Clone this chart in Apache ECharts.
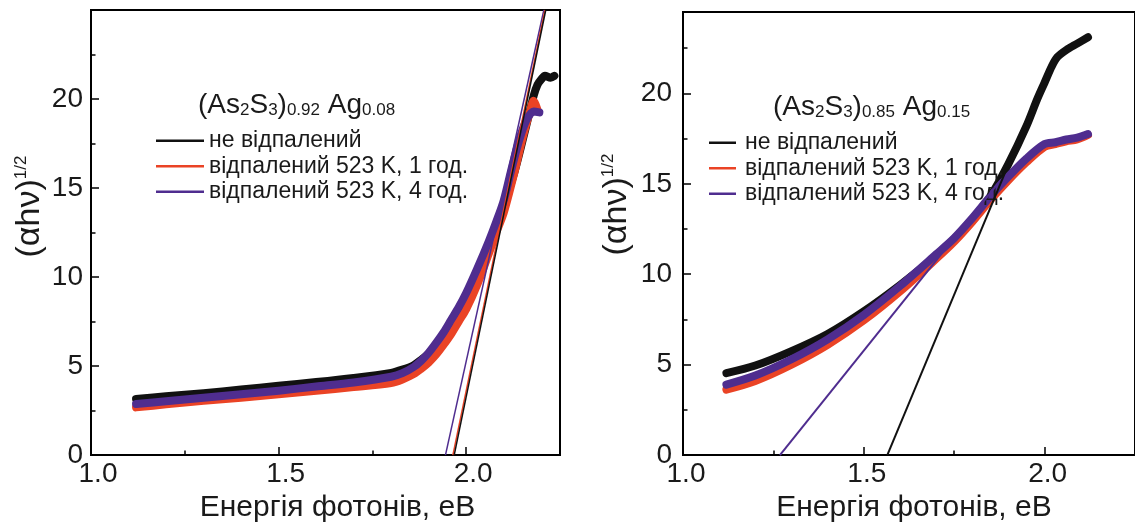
<!DOCTYPE html>
<html>
<head>
<meta charset="utf-8">
<script src="https://cdn.jsdelivr.net/npm/echarts@6/dist/echarts.min.js"></script>
<style>
  html, body { margin: 0; padding: 0; background: #ffffff; }
  #chart { width: 1135px; height: 528px; }
</style>
</head>
<body>
<div id="chart"></div>
<script>
// Legend entries and colours shared by both panels
const seriesNames = ['не відпалений', 'відпалений 523 K, 1 год.', 'відпалений 523 K, 4 год.'];
const seriesColors = ['#111111', '#ea4325', '#4f2d8f'];

// Tick labels
const energyTickLabels = ['1.0', '1.5', '2.0'];
const alphaTickLabels = ['0', '5', '10', '15', '20'];

// ---- Panel 1: (As2S3)0.92 Ag0.08 ----
const p1EnergyBlack = [1.12, 1.2, 1.3, 1.4, 1.5, 1.6, 1.7, 1.8, 1.83, 1.86, 1.88, 1.9, 1.92, 1.94, 1.96, 1.98, 2.0, 2.03, 2.06, 2.08, 2.1, 2.13, 2.16, 2.18, 2.19, 2.2, 2.21, 2.225, 2.235];
const p1AlphaBlack  = [3.15, 3.3, 3.48, 3.68, 3.9, 4.1, 4.33, 4.62, 4.8, 5.05, 5.35, 5.7, 6.2, 6.8, 7.5, 8.2, 8.9, 10.2, 11.8, 12.9, 14.0, 16.0, 18.5, 20.2, 20.8, 21.1, 21.3, 21.2, 21.3];

const p1EnergyRed = [1.12, 1.2, 1.3, 1.4, 1.5, 1.6, 1.7, 1.8, 1.83, 1.86, 1.88, 1.9, 1.92, 1.94, 1.96, 1.98, 2.0, 2.03, 2.06, 2.08, 2.1, 2.13, 2.15, 2.17, 2.18, 2.19];
const p1AlphaRed  = [2.68, 2.85, 3.05, 3.22, 3.42, 3.62, 3.82, 4.05, 4.25, 4.55, 4.85, 5.2, 5.65, 6.2, 6.8, 7.5, 8.2, 9.6, 11.3, 12.5, 13.6, 16.0, 17.8, 19.3, 19.9, 19.4];

const p1EnergyViolet = [1.12, 1.2, 1.3, 1.4, 1.5, 1.6, 1.7, 1.8, 1.83, 1.86, 1.88, 1.9, 1.92, 1.94, 1.96, 1.98, 2.0, 2.03, 2.06, 2.08, 2.1, 2.12, 2.14, 2.16, 2.18, 2.195];
const p1AlphaViolet  = [2.87, 3.02, 3.22, 3.42, 3.62, 3.85, 4.08, 4.4, 4.6, 4.95, 5.3, 5.75, 6.3, 6.9, 7.6, 8.3, 9.1, 10.5, 12.0, 13.1, 14.3, 16.0, 17.6, 18.8, 19.3, 19.25];

// Linear extrapolations to the energy axis
const p1FitEnergyBlack = [1.968, 2.212];
const p1FitAlphaBlack  = [0, 25];
const p1FitEnergyRed = [1.9645, 2.21];
const p1FitAlphaRed  = [0, 25];
const p1FitEnergyViolet = [1.9447, 2.207];
const p1FitAlphaViolet  = [0, 25];

// ---- Panel 2: (As2S3)0.85 Ag0.15 ----
const p2EnergyBlack = [1.12, 1.2, 1.3, 1.4, 1.5, 1.6, 1.7, 1.75, 1.8, 1.85, 1.9, 1.95, 1.98, 2.0, 2.02, 2.035, 2.06, 2.09, 2.12];
const p2AlphaBlack  = [4.53, 4.95, 5.75, 6.7, 7.95, 9.4, 11.0, 11.95, 12.95, 14.3, 16.1, 18.2, 19.7, 20.6, 21.5, 22.0, 22.4, 22.75, 23.1];

const p2EnergyRed = [1.12, 1.2, 1.3, 1.4, 1.5, 1.6, 1.7, 1.75, 1.8, 1.85, 1.9, 1.95, 2.0, 2.03, 2.06, 2.09, 2.12];
const p2AlphaRed  = [3.62, 4.1, 5.0, 6.1, 7.45, 9.05, 10.85, 11.8, 12.9, 14.1, 15.2, 16.2, 17.05, 17.2, 17.35, 17.45, 17.7];

const p2EnergyViolet = [1.12, 1.2, 1.3, 1.4, 1.5, 1.6, 1.7, 1.75, 1.8, 1.85, 1.9, 1.95, 2.0, 2.03, 2.06, 2.09, 2.12];
const p2AlphaViolet  = [3.9, 4.4, 5.3, 6.4, 7.75, 9.35, 11.1, 12.0, 13.1, 14.3, 15.4, 16.4, 17.2, 17.3, 17.45, 17.55, 17.75];

const p2FitEnergyViolet = [1.268, 1.88];
const p2FitAlphaViolet  = [0, 15.24];
const p2FitEnergyBlack = [1.565, 1.98];
const p2FitAlphaBlack  = [0, 19.9];

const FONT = "'Liberation Sans', Arial, sans-serif";
const TEXT = '#1a1a1a';

function pairs(xs, ys) { return xs.map((x, i) => [x, ys[i]]); }

function energyMajor(gridIndex, max, labelShift, nameShift, nameGap) {
  return {
    type: 'value', gridIndex, position: 'bottom', min: 1.0, max, interval: 0.5,
    axisLine: { onZero: false, lineStyle: { color: '#000', width: 2 } },
    axisTick: { inside: true, length: 8, lineStyle: { color: '#000', width: 1.5 } },
    axisLabel: {
      showMaxLabel: false, margin: 5, fontSize: 28, color: TEXT, fontFamily: FONT,
      padding: [0, 0, 0, labelShift * 2],
      formatter: v => energyTickLabels[Math.round((v - 1.0) / 0.5)] || ''
    },
    splitLine: { show: false },
    name: 'Енергія фотонів, еВ', nameLocation: 'middle', nameGap,
    nameTextStyle: { fontSize: 30, color: TEXT, fontFamily: FONT, padding: [0, 0, 0, nameShift * 2] }
  };
}
function energyMinor(gridIndex, max) {
  return {
    type: 'value', gridIndex, position: 'bottom', min: 1.0, max, interval: 0.25,
    axisLine: { show: false },
    axisTick: { inside: true, length: 4.5, lineStyle: { color: '#000', width: 1.5 } },
    axisLabel: { show: false }, splitLine: { show: false }
  };
}
function alphaMajor(gridIndex, max, labelMargin, nameGap, nameShift) {
  return {
    type: 'value', gridIndex, position: 'left', min: 0, max, interval: 5,
    axisLine: { onZero: false, lineStyle: { color: '#000', width: 2 } },
    axisTick: { inside: true, length: 8, lineStyle: { color: '#000', width: 1.5 } },
    axisLabel: {
      showMaxLabel: false, margin: labelMargin, fontSize: 28, color: TEXT, fontFamily: FONT,
      formatter: v => alphaTickLabels[Math.round(v / 5)] || ''
    },
    splitLine: { show: false },
    name: '{m|(αhν)}{s|1/2}', nameLocation: 'middle', nameRotate: 90, nameGap,
    nameTextStyle: {
      color: TEXT, fontFamily: FONT, padding: [0, 0, 0, nameShift * 2],
      rich: {
        m: { fontSize: 34, color: TEXT, fontFamily: FONT },
        s: { fontSize: 17, color: TEXT, fontFamily: FONT, verticalAlign: 'top' }
      }
    }
  };
}
function alphaMinor(gridIndex, max) {
  return {
    type: 'value', gridIndex, position: 'left', min: 0, max, interval: 2.5,
    axisLine: { show: false },
    axisTick: { inside: true, length: 4.5, lineStyle: { color: '#000', width: 1.5 } },
    axisLabel: { show: false }, splitLine: { show: false }
  };
}

function dataSeries(name, color, xAxisIndex, yAxisIndex, xs, ys) {
  return {
    type: 'line', name, xAxisIndex, yAxisIndex, data: pairs(xs, ys),
    symbol: 'none', smooth: 0.3, silent: true, z: 2,
    itemStyle: { color },
    lineStyle: { color, width: 8, cap: 'round', join: 'round' }
  };
}
function fitSeries(color, xAxisIndex, yAxisIndex, xs, ys, width) {
  return {
    type: 'line', xAxisIndex, yAxisIndex, data: pairs(xs, ys),
    symbol: 'none', silent: true, z: 5,
    lineStyle: { color, width }
  };
}

const compositionTitle = (a, b) =>
  `{m|(As}{s|2}{m|S}{s|3}{m|)}{s|${a}}{m| Ag}{s|${b}}`;
const titleRich = {
  m: { fontSize: 28, fontWeight: 'normal', color: TEXT, fontFamily: FONT },
  s: { fontSize: 17, fontWeight: 'normal', color: TEXT, fontFamily: FONT, verticalAlign: 'bottom', lineHeight: 12 }
};

const legendBase = {
  orient: 'vertical', icon: 'rect', itemHeight: 2.5, itemGap: 0, selectedMode: false,
  data: seriesNames,
  textStyle: { fontSize: 23, lineHeight: 25.5, color: TEXT, fontFamily: FONT }
};

const chart = echarts.init(document.getElementById('chart'), null, { renderer: 'canvas' });
chart.setOption({
  animation: false,
  backgroundColor: '#ffffff',
  grid: [
    { left: 91, top: 10, width: 469, height: 448, show: true, borderColor: '#000', borderWidth: 2, containLabel: false },
    { left: 683, top: 12, width: 477, height: 451, show: true, borderColor: '#000', borderWidth: 2, containLabel: false }
  ],
  title: [
    { text: compositionTitle('0.92', '0.08'), left: 193, top: 86, textStyle: { fontWeight: 'normal', rich: titleRich } },
    { text: compositionTitle('0.85', '0.15'), left: 768, top: 88, textStyle: { fontWeight: 'normal', rich: titleRich } }
  ],
  legend: [
    Object.assign({}, legendBase, { left: 151, top: 123, itemWidth: 48 }),
    Object.assign({}, legendBase, { left: 704, top: 125, itemWidth: 27, textStyle: Object.assign({}, legendBase.textStyle, { padding: [0, 0, 0, 4] }) })
  ],
  xAxis: [
    energyMajor(0, 2.25, 7, 12, 36),
    energyMinor(0, 2.25),
    energyMajor(1, 2.25, 3, 5, 33),
    energyMinor(1, 2.25)
  ],
  yAxis: [
    alphaMajor(0, 25, 8, 44, 26),
    alphaMinor(0, 25),
    alphaMajor(1, 24.5, 11, 49, 29),
    alphaMinor(1, 24.5)
  ],
  series: [
    dataSeries(seriesNames[0], seriesColors[0], 0, 0, p1EnergyBlack, p1AlphaBlack),
    dataSeries(seriesNames[1], seriesColors[1], 0, 0, p1EnergyRed, p1AlphaRed),
    dataSeries(seriesNames[2], seriesColors[2], 0, 0, p1EnergyViolet, p1AlphaViolet),
    fitSeries(seriesColors[2], 0, 0, p1FitEnergyViolet, p1FitAlphaViolet, 1.5),
    fitSeries(seriesColors[1], 0, 0, p1FitEnergyRed, p1FitAlphaRed, 1.5),
    fitSeries(seriesColors[0], 0, 0, p1FitEnergyBlack, p1FitAlphaBlack, 1.5),

    dataSeries(seriesNames[0], seriesColors[0], 2, 2, p2EnergyBlack, p2AlphaBlack),
    dataSeries(seriesNames[1], seriesColors[1], 2, 2, p2EnergyRed, p2AlphaRed),
    dataSeries(seriesNames[2], seriesColors[2], 2, 2, p2EnergyViolet, p2AlphaViolet),
    fitSeries(seriesColors[2], 2, 2, p2FitEnergyViolet, p2FitAlphaViolet, 2),
    fitSeries(seriesColors[0], 2, 2, p2FitEnergyBlack, p2FitAlphaBlack, 2)
  ]
});
</script>
</body>
</html>
